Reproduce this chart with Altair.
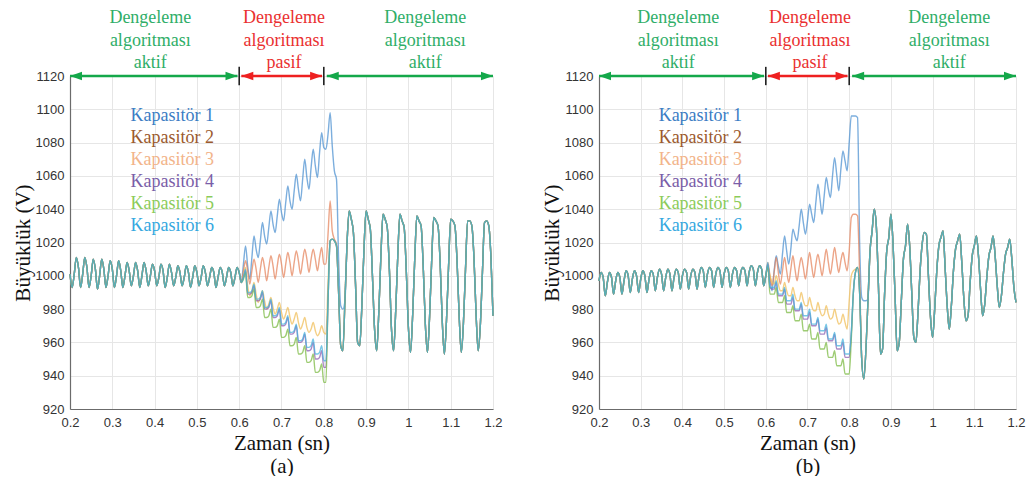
import altair as alt
import pandas as pd

# ---------------- data ----------------
T_START = 0.2      # first sample time (s)
T_STEP = 0.005     # sampling step (s)

SERIES = ["Kapasitör 1", "Kapasitör 2", "Kapasitör 3",
          "Kapasitör 4", "Kapasitör 5", "Kapasitör 6"]
LINE_COLORS = ["#4a8fd0", "#e5825a", "#f0bc55", "#8a5cb0", "#78b83e", "#45b2dc"]
LEGEND_COLORS = ["#3b7dc4", "#9b5a2e", "#f2b48a", "#7a5ea8", "#8ccb5a", "#35a8e0"]

# ---- panel (a) ----
# 0.200 .. 0.595 s (all capacitors together)
A_EARLY = [1001, 993, 1001, 1011, 1005, 993, 1001, 1011, 1005, 993, 1000, 1010,
           1004, 992, 1000, 1010, 1004, 993, 1000, 1009, 1004, 993, 1000, 1009,
           1003, 993, 1000, 1008, 1003, 994, 1000, 1008, 1003, 993, 1000, 1008,
           1003, 994, 1000, 1007, 1003, 994, 999, 1007, 1003, 993, 999, 1007,
           1002, 994, 999, 1006, 1002, 994, 999, 1006, 1002, 993, 999, 1006,
           1002, 994, 999, 1006, 1002, 994, 999, 1005, 1002, 993, 999, 1005,
           1002, 994, 999, 1005, 1002, 994, 999, 1005]
# 0.600 .. 0.845 s (balancing off)
A_K1 = [1002, 996, 1007, 1018, 1006, 998, 1011, 1024, 1016, 1011, 1021, 1032,
        1024, 1019, 1029, 1039, 1031, 1026, 1036, 1046, 1038, 1033, 1044, 1054,
        1045, 1040, 1051, 1061, 1052, 1045, 1058, 1070, 1059, 1052, 1065, 1076,
        1066, 1059, 1074, 1086, 1077, 1076, 1085, 1098, 1078, 1063, 1058, 1010, 982, 980]
A_K2 = [1002, 996, 1003, 1009, 1003, 995, 1003, 1010, 1004, 996, 1004, 1011,
        1005, 997, 1005, 1012, 1006, 998, 1006, 1013, 1007, 999, 1007, 1014,
        1008, 1000, 1008, 1015, 1009, 1001, 1009, 1016, 1010, 1002, 1010, 1016,
        1010, 1003, 1011, 1017, 1007, 1007, 1025, 1045, 1027, 1022, 1019, 990, 958, 955]
A_K3 = [1002, 996, 1000, 1005, 994, 988, 991, 996, 989, 984, 987, 991,
        985, 980, 983, 987, 981, 977, 980, 984, 978, 974, 977, 981,
        975, 971, 974, 978, 972, 968, 971, 975, 969, 966, 968, 972,
        967, 964, 966, 970, 966, 965, 995, 1021, 1022, 1021, 1018, 990, 958, 955]
A_K4 = [1002, 996, 999, 1003, 989, 989, 990, 994, 985, 985, 986, 990,
        980, 980, 981, 985, 975, 975, 976, 980, 970, 970, 971, 975,
        965, 965, 966, 970, 960, 960, 961, 965, 955, 955, 956, 960,
        950, 950, 951, 955, 945, 945, 985, 1021, 1022, 1021, 1018, 990, 958, 955]
A_K5 = [1002, 996, 998, 1002, 987, 987, 988, 992, 981, 981, 982, 986,
        975, 975, 976, 980, 969, 969, 970, 974, 963, 963, 964, 968,
        958, 958, 959, 963, 953, 953, 954, 958, 948, 948, 949, 953,
        942, 942, 943, 947, 936, 936, 985, 1021, 1022, 1021, 1018, 990, 958, 955]
A_K6 = [1002, 996, 999, 1004, 990, 990, 991, 995, 986, 986, 987, 991,
        981, 981, 982, 986, 976, 976, 977, 981, 971, 971, 972, 976,
        966, 966, 967, 971, 961, 961, 962, 966, 957, 957, 958, 962,
        953, 953, 954, 958, 949, 949, 985, 1021, 1022, 1021, 1018, 990, 958, 955]
# 0.850 .. 1.200 s (balancing on again)
A_LATE = [985, 1020, 1039, 1034, 1026, 995, 960,
          958, 982, 1016, 1039, 1034, 1028, 1000, 968,
          955, 978, 1012, 1037, 1034, 1029, 1004, 968,
          955, 979, 1013, 1037, 1033, 1029, 1003, 969,
          954, 976, 1010, 1036, 1033, 1030, 1006, 971,
          954, 975, 1009, 1035, 1033, 1030, 1008, 973,
          953, 973, 1006, 1034, 1033, 1030, 1009, 976,
          954, 971, 1004, 1033, 1033, 1030, 1011, 977,
          955, 970, 1002, 1032, 1033, 1030, 1012, 976]

# ---- panel (b) ----
B_EARLY = [997, 1002, 999, 988, 996, 1002, 999, 989, 997, 1002, 999, 989,
           997, 1003, 1000, 990, 998, 1003, 1000, 990, 998, 1003, 1000, 990,
           998, 1003, 1001, 991, 999, 1004, 1001, 991, 999, 1004, 1001, 991,
           999, 1004, 1002, 992, 1000, 1004, 1002, 992, 1000, 1004, 1002, 992,
           1000, 1005, 1003, 993, 1001, 1005, 1003, 993, 1001, 1005, 1003, 993,
           1001, 1005, 1003, 993, 1001, 1005, 1003, 994, 1002, 1005, 1003, 994,
           1002, 1006, 1004, 994, 1002, 1006, 1004, 994]
B_K1 = [1000, 1006, 998, 991, 1003, 1012, 1006, 1001, 1013, 1024, 1015, 1007,
        1016, 1028, 1024, 1021, 1030, 1040, 1032, 1025, 1033, 1043, 1037, 1032,
        1044, 1055, 1046, 1037, 1048, 1059, 1052, 1047, 1060, 1071, 1061, 1051,
        1064, 1075, 1069, 1063, 1080, 1096, 1096, 1096, 1095, 1020, 987, 985, 985, 986]
B_K2 = [1000, 1008, 1000, 994, 1002, 1011, 1002, 995, 1003, 1011, 1003, 996,
        1004, 1012, 1004, 997, 1005, 1011, 1005, 998, 1006, 1014, 1006, 999,
        1007, 1013, 1007, 1000, 1008, 1016, 1008, 1001, 1009, 1017, 1009, 1002,
        1009, 1014, 1008, 1003, 1015, 1035, 1037, 1037, 1036, 1000, 950, 938, 955, 985]
B_K3 = [1000, 1005, 1000, 996, 995, 1000, 995, 991, 991, 996, 991, 988,
        988, 993, 988, 985, 985, 990, 985, 982, 982, 987, 982, 979,
        979, 984, 979, 976, 977, 982, 977, 974, 975, 980, 975, 971,
        972, 977, 972, 968, 985, 1000, 1003, 1004, 1005, 990, 950, 938, 955, 985]
B_K4 = [1000, 1007, 993, 992, 992, 996, 988, 988, 988, 992, 983, 983,
        983, 987, 979, 979, 979, 983, 974, 974, 974, 978, 970, 970,
        970, 974, 965, 965, 965, 969, 961, 961, 961, 965, 956, 956,
        956, 960, 951, 951, 951, 965, 990, 1002, 1005, 990, 950, 938, 955, 985]
B_K5 = [1000, 1006, 989, 989, 989, 993, 984, 984, 984, 988, 978, 978,
        978, 982, 973, 973, 973, 977, 967, 967, 967, 971, 962, 962,
        962, 966, 956, 956, 956, 960, 951, 951, 951, 955, 946, 946,
        946, 950, 941, 941, 941, 962, 990, 1002, 1005, 990, 950, 938, 955, 985]
B_K6 = [1000, 1008, 993, 993, 993, 997, 989, 989, 989, 993, 985, 985,
        985, 989, 980, 980, 980, 984, 976, 976, 976, 980, 971, 971,
        971, 975, 967, 967, 967, 971, 962, 962, 962, 966, 958, 958,
        958, 962, 953, 953, 953, 966, 990, 1002, 1005, 990, 950, 938, 955, 985]
B_LATE = [1015, 1027, 1040, 1030, 995, 953,
          956, 990, 1015, 1023, 1037, 1020, 988, 955,
          960, 985, 1010, 1018, 1031, 1018, 990, 963,
          960, 978, 1003, 1019, 1026, 1025, 1000, 975,
          963, 980, 1003, 1018, 1023, 1027, 1005, 982,
          968, 982, 1003, 1016, 1021, 1025, 1008, 986, 973,
          976, 996, 1012, 1018, 1024, 1012, 992, 976,
          983, 999, 1012, 1017, 1024, 1012, 994, 981,
          988, 1002, 1013, 1017, 1022, 1010, 993, 984]

# annotation texts
ZONE_TEXT = [["Dengeleme", "algoritması", "aktif"],
             ["Dengeleme", "algoritması", "pasif"],
             ["Dengeleme", "algoritması", "aktif"]]
ZONE_X = [0.39, 0.706, 1.04]
ZONE_TEXT_COLORS = ["#2fae68", "#ea3030", "#2fae68"]
LINE_Y = [1152, 1138.3, 1125]
ARROWS = [(0.2, 0.596, "#14a84a"), (0.605, 0.796, "#ee2020"), (0.807, 1.2, "#14a84a")]
MARKERS_X = [0.6, 0.8]

X_TICKS = [0.2, 0.3, 0.4, 0.5, 0.6, 0.7, 0.8, 0.9, 1.0, 1.1, 1.2]
Y_TICKS = [920, 940, 960, 980, 1000, 1020, 1040, 1060, 1080, 1100, 1120]
LEGEND_X = 0.343
LEGEND_Y = [1096, 1082.8, 1069.6, 1056.4, 1043.2, 1030]

SERIF = "Liberation Serif, Times New Roman, serif"
SANS = "Liberation Sans, Arial, sans-serif"


def panel(early, mids, late, label, width):
    rows = []
    for name, mid in zip(SERIES, mids):
        vals = early + mid + late
        for j, v in enumerate(vals):
            rows.append({"t": round(T_START + T_STEP * j, 4), "v": v, "s": name})
    df = pd.DataFrame(rows)

    xs = alt.Scale(domain=[0.2, 1.2], nice=False, zero=False)
    ys = alt.Scale(domain=[920, 1120], nice=False, zero=False)
    xaxis = alt.Axis(values=X_TICKS, format=".1~f", title=["Zaman (sn)", label],
                     titleLineHeight=23, labelFlush=False, labelOverlap=False)
    yaxis = alt.Axis(values=Y_TICKS, format="d", title="Büyüklük (V)", labelOverlap=False)

    def X(f):
        return alt.X(f, scale=xs, axis=xaxis)

    def Y(f):
        return alt.Y(f, scale=ys, axis=yaxis)

    lines = alt.Chart(df).mark_line(strokeWidth=1.4, opacity=0.72, interpolate="monotone").encode(
        x=X("t:Q"), y=Y("v:Q"),
        color=alt.Color("s:N", scale=alt.Scale(domain=SERIES, range=LINE_COLORS), legend=None),
    )

    arr_df = pd.DataFrame([{"x0": a, "x1": b, "y": 1120, "c": c} for a, b, c in ARROWS])
    arr_lines = alt.Chart(arr_df).mark_rule(strokeWidth=2.6).encode(
        x=X("x0:Q"), x2="x1", y=Y("y:Q"), color=alt.Color("c:N", scale=None))
    heads_l = alt.Chart(arr_df).mark_point(
        shape="M0,0L2,-0.7L2,0.7Z", filled=True, size=144, opacity=1).encode(
        x=X("x0:Q"), y=Y("y:Q"), color=alt.Color("c:N", scale=None))
    heads_r = alt.Chart(arr_df).mark_point(
        shape="M0,0L-2,-0.7L-2,0.7Z", filled=True, size=144, opacity=1).encode(
        x=X("x1:Q"), y=Y("y:Q"), color=alt.Color("c:N", scale=None))

    mk_df = pd.DataFrame([{"x": m, "y0": 1125.5, "y1": 1114.5} for m in MARKERS_X])
    markers = alt.Chart(mk_df).mark_rule(strokeWidth=1.6, color="#222").encode(
        x=X("x:Q"), y=Y("y0:Q"), y2="y1")

    zrows = []
    for lines_txt, zx, zc in zip(ZONE_TEXT, ZONE_X, ZONE_TEXT_COLORS):
        for txt, zy in zip(lines_txt, LINE_Y):
            zrows.append({"x": zx, "y": zy, "txt": txt, "c": zc})
    zones = alt.Chart(pd.DataFrame(zrows)).mark_text(
        font=SERIF, fontSize=18, baseline="alphabetic", align="center").encode(
        x=X("x:Q"), y=Y("y:Q"), text="txt:N", color=alt.Color("c:N", scale=None))

    lg_df = pd.DataFrame([{"x": LEGEND_X, "y": yy, "txt": n, "c": c}
                          for n, yy, c in zip(SERIES, LEGEND_Y, LEGEND_COLORS)])
    legend = alt.Chart(lg_df).mark_text(
        font=SERIF, fontSize=18, baseline="middle", align="left").encode(
        x=X("x:Q"), y=Y("y:Q"), text="txt:N", color=alt.Color("c:N", scale=None))

    return alt.layer(lines, arr_lines, heads_l, heads_r, markers, zones, legend).properties(
        width=width, height=333)


left = panel(A_EARLY, [A_K1, A_K2, A_K3, A_K4, A_K5, A_K6], A_LATE, "(a)", 423)
right = panel(B_EARLY, [B_K1, B_K2, B_K3, B_K4, B_K5, B_K6], B_LATE, "(b)", 417)

chart = alt.hconcat(left, right, spacing=38).properties(
    padding={"left": 4, "top": 0, "right": 0, "bottom": 0}).configure_view(
    strokeWidth=0).configure_axis(
    grid=True, gridColor="#e6e6e6", domainColor="#6b6b6b", domainWidth=1.2, ticks=False,
    labelFont=SANS, labelFontSize=13, labelColor="#333", labelPadding=6, labelOverlap=False,
    titleFont=SERIF, titleFontSize=21, titleFontWeight="normal",
    titleColor="#111", titlePadding=7,
).configure_axisY(titlePadding=2).configure_axisX(labelPadding=7, titlePadding=3)

chart.save("out.html", embed_options={"renderer": "svg", "actions": False})
